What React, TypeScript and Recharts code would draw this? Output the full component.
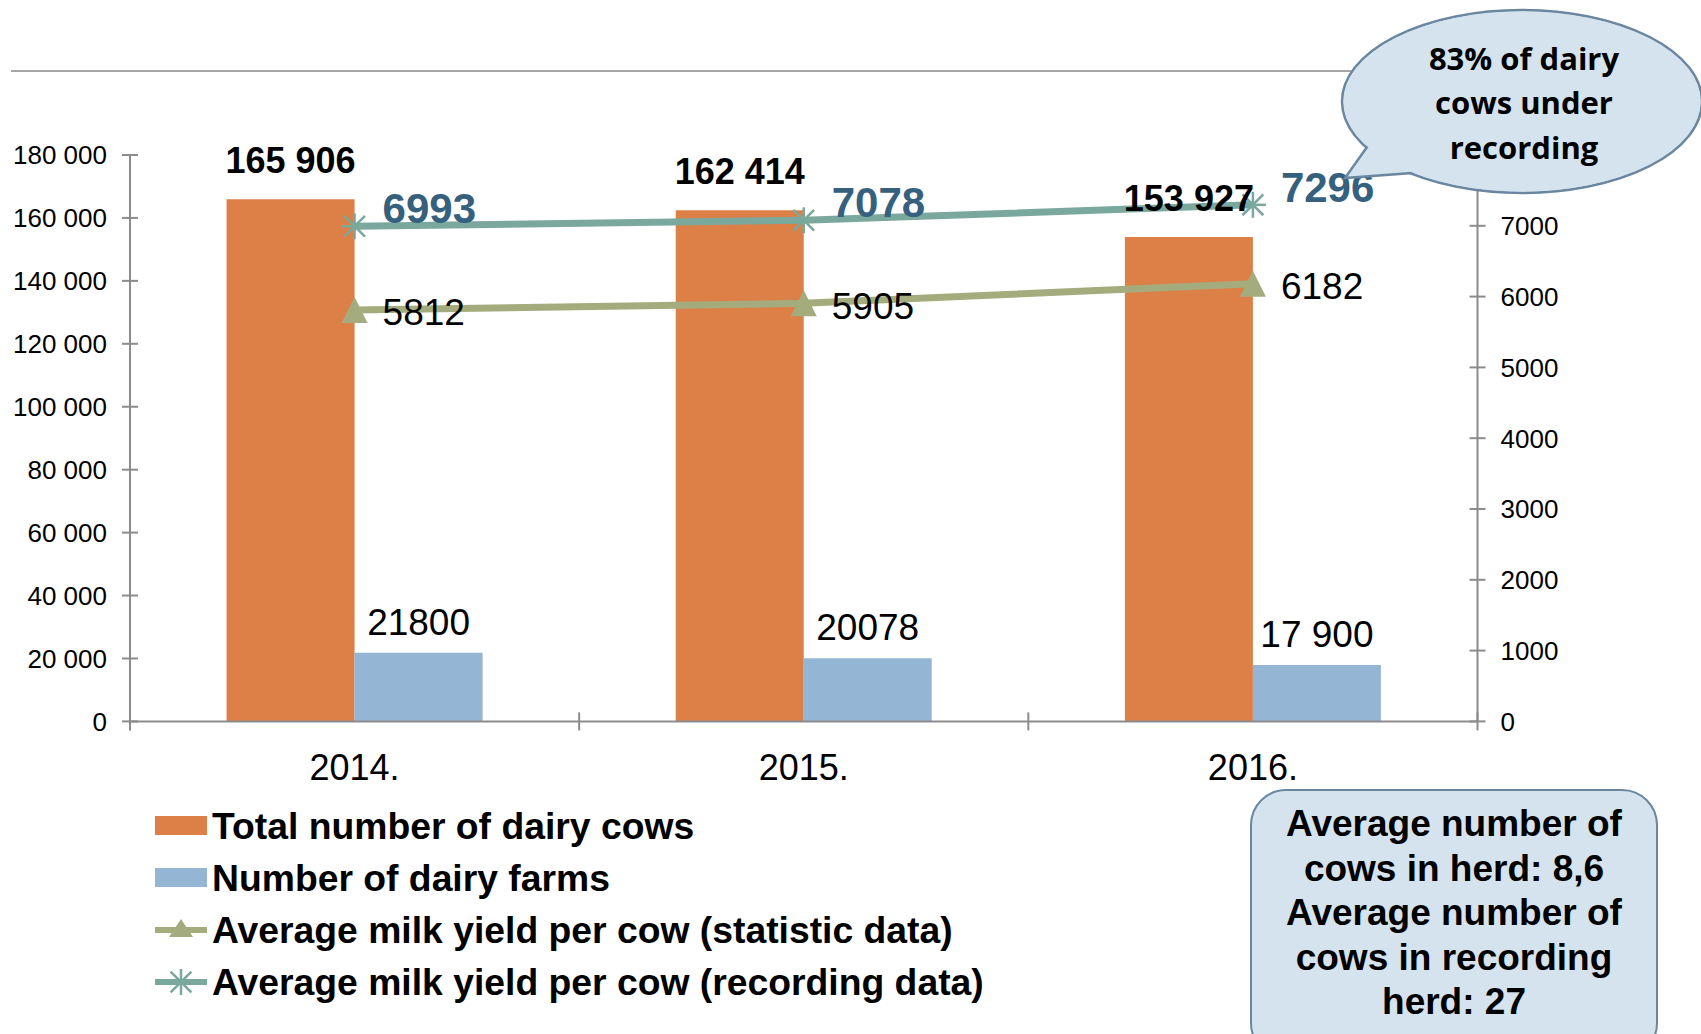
import React from 'react';
import { ComposedChart, Bar, Line, XAxis, YAxis, LabelList, Legend } from 'recharts';

const years = ['2014.', '2015.', '2016.'];
const totalCows = [165906, 162414, 153927];
const dairyFarms = [21800, 20078, 17900];
const farmLabels = ['21800', '20078', '17 900'];
const yieldStatistic = [5812, 5905, 6182];
const yieldRecording = [6993, 7078, 7296];
const leftTicks = [0, 20000, 40000, 60000, 80000, 100000, 120000, 140000, 160000, 180000];
const rightTicks = [0, 1000, 2000, 3000, 4000, 5000, 6000, 7000];
const seriesNames = [
  'Total number of dairy cows',
  'Number of dairy farms',
  'Average milk yield per cow (statistic data)',
  'Average milk yield per cow (recording data)',
];
const bubbleLines = ['83% of dairy', 'cows under', 'recording'];
const boxLines = ['Average number of', 'cows in herd: 8,6', 'Average number of', 'cows in recording', 'herd: 27'];

const data = years.map((y, i) => ({
  year: y,
  cows: totalCows[i],
  farms: dairyFarms[i],
  farmLabel: farmLabels[i],
  stat: yieldStatistic[i],
  rec: yieldRecording[i],
}));

const FONT = '"Liberation Sans", Arial, sans-serif';
const ORANGE = '#dd8047';
const BLUE = '#95b5d4';
const STAT = '#a4ac7e';
const REC = '#7ba89c';
const LABEL_BLUE = '#35607e';
const AXIS = '#8c8c8c';

const fmtSpace = (v: number) => String(v).replace(/\B(?=(\d{3})+(?!\d))/g, ' ');

const LeftTick = (props: any) => {
  const { x, y, payload } = props;
  const ax = x + 23;
  return (
    <g>
      <line x1={ax - 8} x2={ax + 8} y1={y} y2={y} stroke={AXIS} strokeWidth={2} />
      <text x={x} y={y} dy="0.36em" textAnchor="end" fontSize={26} fontFamily={FONT} fill="#000">
        {fmtSpace(payload.value)}
      </text>
    </g>
  );
};

const RightTick = (props: any) => {
  const { x, y, payload } = props;
  const ax = x - 23;
  return (
    <g>
      <line x1={ax - 8} x2={ax + 8} y1={y} y2={y} stroke={AXIS} strokeWidth={2} />
      <text x={x} y={y} dy="0.36em" textAnchor="start" fontSize={26} fontFamily={FONT} fill="#000">
        {payload.value}
      </text>
    </g>
  );
};

const BottomTick = (props: any) => {
  const { x, y, payload, index, visibleTicksCount } = props;
  const half = payload && payload.offset ? payload.offset : 224.5;
  const isLast = index === visibleTicksCount - 1;
  return (
    <g>
      <line x1={x - half} x2={x - half} y1={y - 9} y2={y + 9} stroke={AXIS} strokeWidth={2} />
      {isLast && <line x1={x + half} x2={x + half} y1={y - 9} y2={y + 9} stroke={AXIS} strokeWidth={2} />}
      <text x={x} y={y + 46} dy="0.36em" textAnchor="middle" fontSize={36} fontFamily={FONT} fill="#000">
        {payload.value}
      </text>
    </g>
  );
};

const TriangleDot = (props: any) => {
  const { cx, cy } = props;
  if (cx == null || cy == null) return null;
  return <polygon points={`${cx},${cy - 13} ${cx + 13},${cy + 13} ${cx - 13},${cy + 13}`} fill={STAT} />;
};

const StarDot = (props: any) => {
  const { cx, cy } = props;
  if (cx == null || cy == null) return null;
  const r = 13;
  const d = r * 0.8;
  return (
    <g stroke={REC} strokeWidth={2.5}>
      <line x1={cx - d} y1={cy - d} x2={cx + d} y2={cy + d} />
      <line x1={cx - d} y1={cy + d} x2={cx + d} y2={cy - d} />
      <line x1={cx} y1={cy - r} x2={cx} y2={cy + r} />
      <line x1={cx - r} y1={cy} x2={cx + r} y2={cy} />
    </g>
  );
};

const CowsLabel = (props: any) => {
  const { x, y, width, value } = props;
  return (
    <text x={x + width / 2} y={y - 26} textAnchor="middle" fontSize={36} fontWeight="bold" fontFamily={FONT} fill="#000">
      {fmtSpace(value)}
    </text>
  );
};

const FarmsLabel = (props: any) => {
  const { x, y, width, index } = props;
  return (
    <text x={x + width / 2} y={y - 18} textAnchor="middle" fontSize={37} fontFamily={FONT} fill="#000">
      {farmLabels[index]}
    </text>
  );
};

const StatLabel = (props: any) => {
  const { x, y, value } = props;
  return (
    <text x={x + 28} y={y + 2} dy="0.36em" textAnchor="start" fontSize={37} fontFamily={FONT} fill="#000">
      {value}
    </text>
  );
};

const RecLabel = (props: any) => {
  const { x, y, value } = props;
  return (
    <text x={x + 28} y={y - 18} dy="0.36em" textAnchor="start" fontSize={42} fontWeight="bold" fontFamily={FONT} fill={LABEL_BLUE}>
      {value}
    </text>
  );
};

const LegendContent = () => {
  const icons = [
    <rect x={0} y={16} width={52} height={19} fill={ORANGE} />,
    <rect x={0} y={16} width={52} height={19} fill={BLUE} />,
    <g>
      <line x1={0} x2={52} y1={26} y2={26} stroke={STAT} strokeWidth={6} />
      <polygon points="26,15 38,33 14,33" fill={STAT} />
    </g>,
    <g>
      <line x1={0} x2={52} y1={26} y2={26} stroke={REC} strokeWidth={6} />
      <StarDot cx={26} cy={26} />
    </g>,
  ];
  return (
    <div style={{ fontFamily: FONT }}>
      {seriesNames.map((n, i) => (
        <div key={n} style={{ display: 'flex', alignItems: 'center', height: 52 }}>
          <svg width={57} height={52} style={{ flex: 'none' }}>{icons[i]}</svg>
          <span style={{ fontSize: 37.3, fontWeight: 'bold', color: '#000', whiteSpace: 'nowrap' }}>{n}</span>
        </div>
      ))}
    </div>
  );
};

export default function App() {
  return (
    <div style={{ position: 'absolute', left: 0, top: 0, width: 1701, height: 1034, background: '#fff', overflow: 'hidden' }}>
      <div style={{ position: 'absolute', left: 11, top: 70, width: 1340, height: 0, borderTop: '2px solid #a6a6a6' }} />
      <ComposedChart
        width={1701}
        height={1034}
        data={data}
        margin={{ top: 155, right: 123.5, bottom: 252.6, left: 10 }}
        barCategoryGap="21.5%"
        barGap={0}
      >
        <XAxis
          dataKey="year"
          height={60}
          axisLine={{ stroke: AXIS, strokeWidth: 2 }}
          tickLine={false}
          tickSize={0}
          tickMargin={0}
          tick={<BottomTick />}
          interval={0}
        />
        <YAxis
          yAxisId="left"
          width={120}
          domain={[0, 180000]}
          ticks={leftTicks}
          interval={0}
          axisLine={{ stroke: AXIS, strokeWidth: 2 }}
          tickLine={false}
          tickSize={0}
          tickMargin={23}
          tick={<LeftTick />}
        />
        <YAxis
          yAxisId="right"
          orientation="right"
          width={100}
          domain={[0, 8000]}
          ticks={rightTicks}
          interval={0}
          axisLine={{ stroke: AXIS, strokeWidth: 2 }}
          tickLine={false}
          tickSize={0}
          tickMargin={23}
          tick={<RightTick />}
        />
        <Legend
          layout="vertical"
          align="center"
          verticalAlign="middle"
          content={<LegendContent />}
          wrapperStyle={{ left: 155, top: 800, width: 900, height: 210 }}
        />
        <Bar yAxisId="left" dataKey="cows" name={seriesNames[0]} fill={ORANGE} isAnimationActive={false}>
          <LabelList dataKey="cows" content={<CowsLabel />} />
        </Bar>
        <Bar yAxisId="left" dataKey="farms" name={seriesNames[1]} fill={BLUE} isAnimationActive={false}>
          <LabelList dataKey="farms" content={<FarmsLabel />} />
        </Bar>
        <Line
          yAxisId="right"
          dataKey="stat"
          name={seriesNames[2]}
          type="linear"
          stroke={STAT}
          strokeWidth={7}
          dot={<TriangleDot />}
          activeDot={false}
          isAnimationActive={false}
        >
          <LabelList dataKey="stat" content={<StatLabel />} />
        </Line>
        <Line
          yAxisId="right"
          dataKey="rec"
          name={seriesNames[3]}
          type="linear"
          stroke={REC}
          strokeWidth={7}
          dot={<StarDot />}
          activeDot={false}
          isAnimationActive={false}
        >
          <LabelList dataKey="rec" content={<RecLabel />} />
        </Line>
      </ComposedChart>

      <svg style={{ position: 'absolute', left: 0, top: 0, pointerEvents: 'none' }} width={1701} height={1034}>
        <ellipse cx={1522} cy={101.5} rx={180} ry={91.5} fill="#d5e3ee" stroke="#6b87a0" strokeWidth={2.5} />
        <polygon points="1372,140 1345,178 1412,173 1420,160" fill="#d5e3ee" stroke="#6b87a0" strokeWidth={2.5} strokeLinejoin="miter" />
        <ellipse cx={1522} cy={101.5} rx={178.5} ry={90} fill="#d5e3ee" />
        {bubbleLines.map((t, i) => (
          <text key={t} x={1524} y={58.6 + i * 44.5} dy="0.36em" textAnchor="middle" fontSize={31} fontWeight="bold" fontFamily='"Open Sans", sans-serif' fill="#000">
            {t}
          </text>
        ))}
      </svg>

      <div
        style={{
          position: 'absolute',
          left: 1250,
          top: 789,
          width: 408,
          height: 270,
          boxSizing: 'border-box',
          background: '#d5e3ee',
          border: '2.5px solid #6b87a0',
          borderRadius: 36,
          paddingTop: 11,
          fontFamily: FONT,
          fontWeight: 'bold',
          fontSize: 37,
          lineHeight: '44.5px',
          textAlign: 'center',
          color: '#000',
        }}
      >
        {boxLines.map((t, i) => (
          <div key={i} style={{ whiteSpace: 'nowrap' }}>{t}</div>
        ))}
      </div>
    </div>
  );
}
